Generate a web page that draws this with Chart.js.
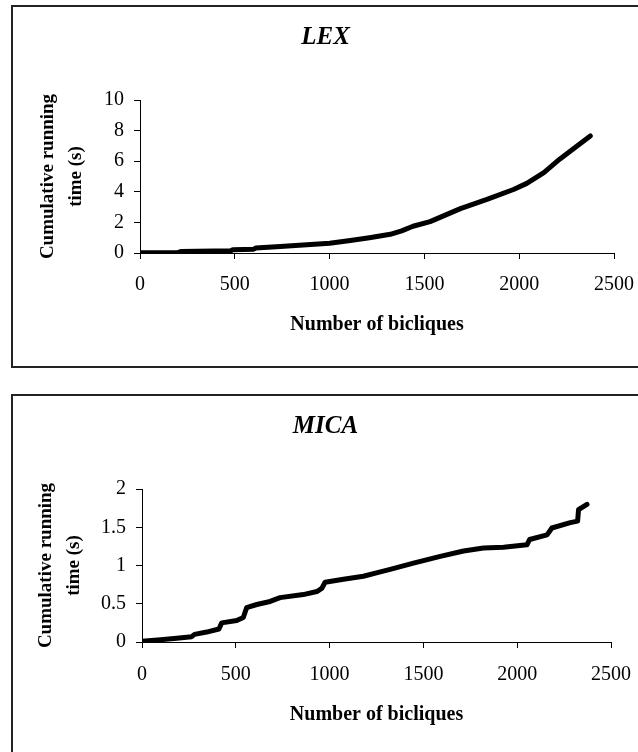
<!DOCTYPE html>
<html>
<head>
<meta charset="utf-8">
<script src="https://cdn.jsdelivr.net/npm/chart.js@4/dist/chart.umd.min.js"></script>
<style>
    body { margin: 0; background: #fff; overflow: hidden; width: 638px; height: 752px; }
    .box { position: absolute; left: 11px; width: 640px; height: 359px; border: 2px solid #222; background: #fff; }
    .box canvas { display: block; }
</style>
</head>
<body>
<div class="box" style="top:5px"><canvas id="graficoLex" width="625" height="359"></canvas></div>
<div class="box" style="top:394px"><canvas id="graficoMica" width="625" height="359"></canvas></div>
<script>
// eixo X comum (número de bicliques)
const xTicks = [0, 500, 1000, 1500, 2000, 2500];

// LEX
const lexX = [0, 200, 215, 480, 490, 600, 610, 740, 860, 1000, 1100, 1210, 1320, 1380, 1440, 1530, 1690, 1830, 1970, 2040, 2130, 2215, 2300, 2375];
const lexY = [0.02, 0.03, 0.1, 0.15, 0.22, 0.25, 0.32, 0.42, 0.52, 0.64, 0.8, 1.0, 1.22, 1.45, 1.75, 2.05, 2.9, 3.5, 4.15, 4.55, 5.25, 6.15, 6.95, 7.65];
const lexYTicks = [0, 2, 4, 6, 8, 10];

// MICA
const micaX = [0, 100, 185, 265, 280, 345, 410, 425, 505, 540, 558, 612, 683, 736, 860, 932, 958, 976, 1074, 1180, 1260, 1323, 1447, 1590, 1714, 1820, 1927, 2052, 2066, 2159, 2185, 2283, 2322, 2327, 2372];
const micaY = [0.01, 0.03, 0.05, 0.07, 0.1, 0.13, 0.17, 0.25, 0.28, 0.32, 0.45, 0.49, 0.53, 0.58, 0.62, 0.66, 0.7, 0.78, 0.82, 0.86, 0.91, 0.95, 1.03, 1.12, 1.19, 1.23, 1.24, 1.27, 1.34, 1.4, 1.49, 1.56, 1.58, 1.73, 1.8];
const micaYTicks = [0, 0.5, 1, 1.5, 2];

const serif = "'Liberation Serif', 'Times New Roman', serif";

function fixedTicks(list) {
    return (scale) => { scale.ticks = list.map(v => ({ value: v })); };
}

function buildChart(canvas, titulo, xs, ys, yTicks, lay) {
    new Chart(canvas, {
        type: 'line',
        data: {
            datasets: [{
                data: xs.map((x, i) => ({ x: x, y: ys[i] })),
                borderColor: '#000',
                borderWidth: 5,
                pointRadius: 0,
                tension: 0,
                fill: false,
                borderCapStyle: 'round',
                borderJoinStyle: 'round'
            }]
        },
        options: {
            responsive: false,
            animation: false,
            layout: { padding: 0 },
            plugins: {
                legend: { display: false },
                tooltip: { enabled: false },
                title: {
                    display: true,
                    text: titulo,
                    color: '#000',
                    font: { family: serif, size: 25, style: 'italic', weight: 'bold', lineHeight: 1.2 },
                    padding: { top: 16, bottom: 47 }
                }
            },
            scales: {
                x: {
                    type: 'linear',
                    min: xTicks[0],
                    max: xTicks[xTicks.length - 1],
                    afterBuildTicks: fixedTicks(xTicks),
                    // espaço à direita sem deslocar o título
                    afterFit: (scale) => { scale.paddingRight = lay.right; },
                    grid: { drawOnChartArea: false, drawTicks: true, tickLength: 6, color: '#000', lineWidth: 1 },
                    border: { display: true, color: '#000', width: 1 },
                    ticks: {
                        color: '#000',
                        padding: lay.xPad,
                        maxRotation: 0,
                        font: { family: serif, size: 20 },
                        callback: v => String(v)
                    },
                    title: {
                        display: true,
                        text: 'Number of bicliques',
                        color: '#000',
                        font: { family: serif, size: 20, weight: 'bold', lineHeight: 1.2 },
                        padding: { top: lay.xTitleTop, bottom: lay.xTitleBottom }
                    }
                },
                y: {
                    type: 'linear',
                    min: yTicks[0],
                    max: yTicks[yTicks.length - 1],
                    afterBuildTicks: fixedTicks(yTicks),
                    grid: { drawOnChartArea: false, drawTicks: true, tickLength: 6, color: '#000', lineWidth: 1 },
                    border: { display: true, color: '#000', width: 1 },
                    ticks: {
                        color: '#000',
                        padding: 10,
                        font: { family: serif, size: 20 },
                        callback: v => String(v)
                    },
                    title: {
                        display: true,
                        text: ['Cumulative running', 'time (s)'],
                        color: '#000',
                        font: { family: serif, size: 19, weight: 'bold', lineHeight: 28 / 19 },
                        padding: { top: lay.yTitleTop, bottom: lay.yTitleBottom }
                    }
                }
            }
        }
    });
}

document.addEventListener('DOMContentLoaded', () => {
    buildChart(document.getElementById('graficoLex'), 'LEX', lexX, lexY, lexYTicks,
        { right: 24, xPad: 14, xTitleTop: 2, xTitleBottom: 29, yTitleTop: 21.5, yTitleBottom: 3.5 });
    buildChart(document.getElementById('graficoMica'), 'MICA', micaX, micaY, micaYTicks,
        { right: 27, xPad: 15, xTitleTop: 1, xTitleBottom: 28, yTitleTop: 19.5, yTitleBottom: 2.5 });
});
</script>
</body>
</html>
